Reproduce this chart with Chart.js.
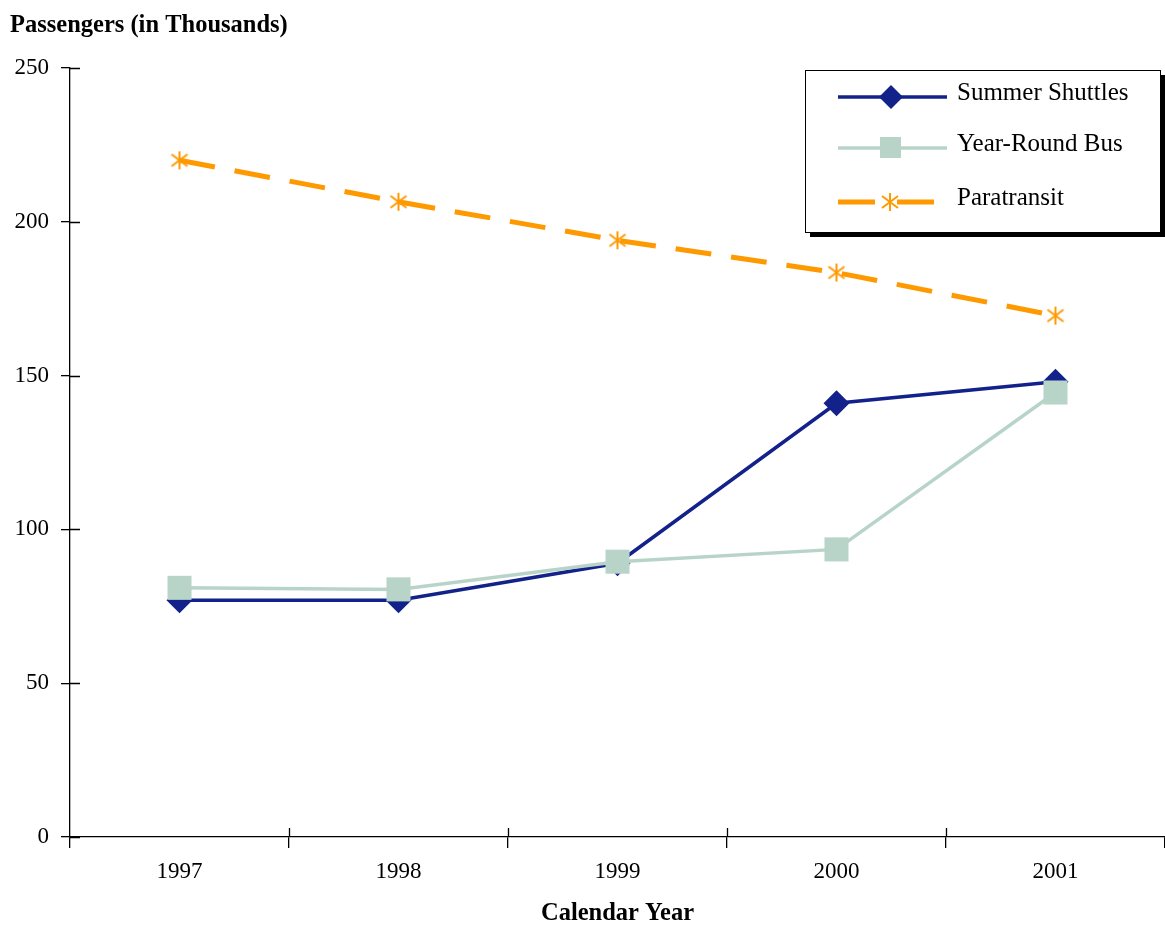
<!DOCTYPE html>
<html>
<head>
<meta charset="utf-8">
<script src="https://cdn.jsdelivr.net/npm/chart.js@4"></script>
<style>
  html, body { margin: 0; padding: 0; background: #fff; }
  #wrap { width: 1165px; height: 925px; }
</style>
</head>
<body>
<div id="wrap"><canvas id="busChart" width="1165" height="925"></canvas></div>
<script>
const years = ["1997", "1998", "1999", "2000", "2001"];
const summerShuttles = [77, 77, 89, 141, 148];
const yearRoundBus = [81, 80.5, 89.5, 93.5, 144.5];
const paratransit = [220, 206.5, 194, 183.5, 169.5];
const yTicks = [0, 50, 100, 150, 200, 250];

const FONT = "'Liberation Serif', 'DejaVu Serif', serif";
const NAVY = "#13228a";
const SAGE = "#b8d4c8";
const ORANGE = "#ff9900";

// six-ray asterisk used for the paratransit points
function makeAsterisk() {
  const c = document.createElement("canvas");
  c.width = 20;
  c.height = 20;
  const g = c.getContext("2d");
  g.strokeStyle = ORANGE;
  g.lineWidth = 2;
  g.beginPath();
  g.moveTo(10, 1); g.lineTo(10, 19);
  g.moveTo(2, 4); g.lineTo(18, 16);
  g.moveTo(2, 16); g.lineTo(18, 4);
  g.stroke();
  return c;
}
const asterisk = makeAsterisk();

// ticks that cross the axis lines, plus the titles and the boxed legend
const decorations = {
  id: "decorations",
  afterDraw(chart) {
    const { ctx, chartArea, scales } = chart;
    ctx.save();
    ctx.strokeStyle = "#000";
    ctx.lineWidth = 1.3;
    ctx.beginPath();
    yTicks.forEach((v) => {
      const y = Math.round(scales.y.getPixelForValue(v)) + 0.5;
      ctx.moveTo(chartArea.left, y);
      ctx.lineTo(chartArea.left + 10, y);
    });
    for (let i = 1; i < years.length; i++) {
      const x = Math.round((scales.x.getPixelForValue(i - 1) + scales.x.getPixelForValue(i)) / 2) + 0.5;
      ctx.moveTo(x, chartArea.bottom);
      ctx.lineTo(x, chartArea.bottom - 9);
    }
    ctx.stroke();

    ctx.fillStyle = "#000";
    ctx.font = "bold 24.5px " + FONT;
    ctx.textBaseline = "alphabetic";
    ctx.textAlign = "left";
    ctx.fillText("Passengers (in Thousands)", 10, 32);
    ctx.textAlign = "center";
    ctx.fillText("Calendar Year", (chartArea.left + chartArea.right) / 2, 920);

    // legend box with drop shadow
    const bx = 805, by = 70, bw = 355, bh = 162;
    ctx.fillStyle = "#000";
    ctx.fillRect(bx + 5, by + 5, bw, bh);
    ctx.fillStyle = "#fff";
    ctx.fillRect(bx, by, bw, bh);
    ctx.lineWidth = 1;
    ctx.strokeRect(bx + 0.5, by + 0.5, bw, bh);

    const rows = [
      { label: "Summer Shuttles", y: 97, color: NAVY, width: 3.5, dash: [] },
      { label: "Year-Round Bus", y: 148, color: SAGE, width: 3.5, dash: [] },
      { label: "Paratransit", y: 202, color: ORANGE, width: 5, dash: [37, 22] }
    ];
    rows.forEach((r, i) => {
      ctx.strokeStyle = r.color;
      ctx.lineWidth = r.width;
      ctx.setLineDash(r.dash);
      ctx.beginPath();
      ctx.moveTo(838, r.y);
      ctx.lineTo(i === 2 ? 935 : 947, r.y);
      ctx.stroke();
      ctx.setLineDash([]);
      ctx.fillStyle = r.color;
      if (i === 0) {
        ctx.beginPath();
        ctx.moveTo(891, r.y - 12);
        ctx.lineTo(903, r.y);
        ctx.lineTo(891, r.y + 12);
        ctx.lineTo(879, r.y);
        ctx.closePath();
        ctx.fill();
      } else if (i === 1) {
        ctx.fillRect(880, r.y - 11, 21, 21);
      } else {
        ctx.drawImage(asterisk, 880, r.y - 10);
      }
      ctx.fillStyle = "#000";
      ctx.font = "25px " + FONT;
      ctx.textAlign = "left";
      ctx.fillText(r.label, 957, r.y + 3);
    });
    ctx.restore();
  }
};

const busChart = new Chart(document.getElementById("busChart"), {
  type: "line",
  data: {
    labels: years,
    datasets: [
      {
        label: "Summer Shuttles",
        data: summerShuttles,
        borderColor: NAVY,
        backgroundColor: NAVY,
        borderWidth: 3.5,
        pointStyle: "rectRot",
        pointRadius: 13,
        pointBorderWidth: 0,
        tension: 0,
        order: 1
      },
      {
        label: "Year-Round Bus",
        data: yearRoundBus,
        borderColor: SAGE,
        backgroundColor: SAGE,
        borderWidth: 3.5,
        pointStyle: "rect",
        pointRadius: 17,
        pointBorderWidth: 0,
        tension: 0,
        order: 0
      },
      {
        label: "Paratransit",
        data: paratransit,
        borderColor: ORANGE,
        backgroundColor: ORANGE,
        borderWidth: 5,
        borderDash: [36, 20],
        pointStyle: asterisk,
        pointRadius: 10,
        tension: 0,
        order: 2
      }
    ]
  },
  options: {
    responsive: false,
    animation: false,
    layout: { autoPadding: false, padding: { top: 68, right: 0, left: 0, bottom: 0 } },
    plugins: {
      legend: { display: false },
      tooltip: { enabled: false }
    },
    scales: {
      x: {
        offset: true,
        grid: {
          offset: true,
          drawOnChartArea: false,
          drawTicks: true,
          tickLength: 11,
          color: "#000",
          lineWidth: 1.3
        },
        border: { color: "#000", width: 1.3 },
        ticks: {
          color: "#000",
          font: { family: FONT, size: 23 },
          padding: 10
        },
        afterFit(scale) {
          scale.height = 88;
          scale.paddingLeft = 0;
          scale.paddingRight = 0;
        }
      },
      y: {
        min: 0,
        max: 250,
        afterBuildTicks(scale) { scale.ticks = yTicks.map((v) => ({ value: v })); },
        grid: {
          drawOnChartArea: false,
          drawTicks: true,
          tickLength: 9,
          color: "#000",
          lineWidth: 1.3
        },
        border: { color: "#000", width: 1.3 },
        ticks: {
          color: "#000",
          font: { family: FONT, size: 23 },
          padding: 12
        },
        afterFit(scale) { scale.width = 70; }
      }
    }
  },
  plugins: [decorations]
});
</script>
</body>
</html>
